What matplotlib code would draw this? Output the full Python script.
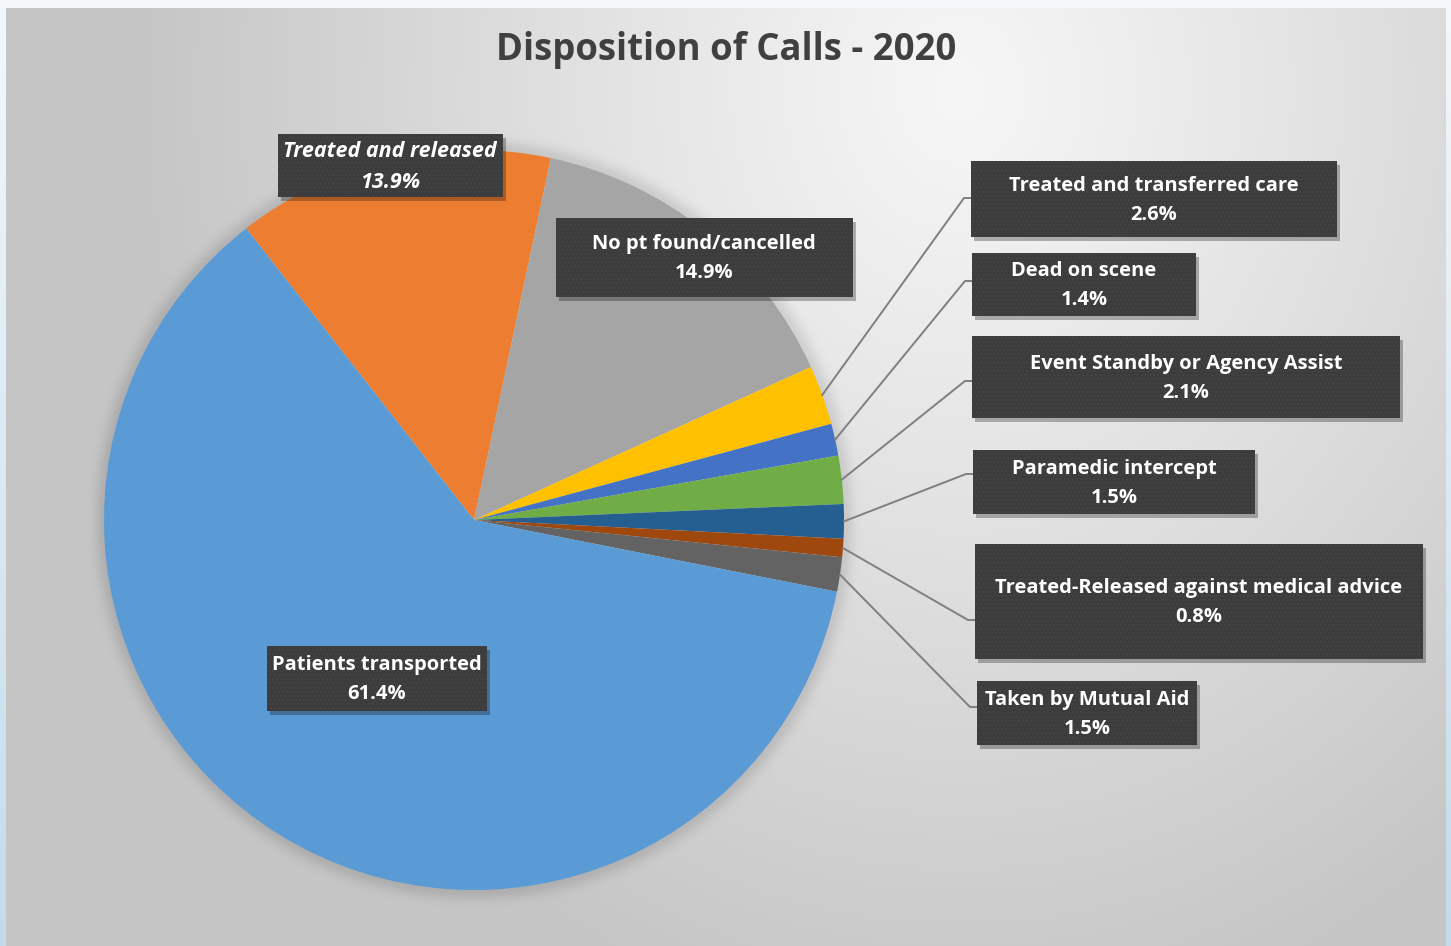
import numpy as np
import matplotlib.pyplot as plt
from matplotlib.patches import Rectangle
from matplotlib.colors import to_rgb

W, H = 1451, 946

categories = ["Treated and released", "No pt found/cancelled", "Treated and transferred care",
              "Dead on scene", "Event Standby or Agency Assist", "Paramedic intercept",
              "Treated-Released against medical advice", "Taken by Mutual Aid",
              "Patients transported"]
shares = [13.9, 14.9, 2.6, 1.4, 2.1, 1.5, 0.8, 1.5, 61.4]
colors = ["#ED7D31", "#A5A5A5", "#FFC000", "#4472C4", "#70AD47", "#255E91",
          "#9E480E", "#636363", "#5B9BD5"]

# label boxes: centre x, centre y, width, height (pixels, y from top)
boxes = [(390, 166, 225, 63), (704, 257, 297, 79), (1154, 199, 366, 76),
         (1084, 284, 224, 63), (1186, 377, 428, 82), (1114, 482, 282, 64),
         (1199, 601, 448, 115), (1087, 713, 220, 64), (377, 678, 220, 65)]
# y of the elbow where each leader line meets its box (None = no leader)
elbow_y = [None, None, 198, 281, 381, 474, 620, 707, None]

cx, cy, R = 474, 520, 370

plt.rcParams['font.family'] = ['Open Sans', 'DejaVu Sans']

fig = plt.figure(figsize=(W / 100, H / 100), dpi=100)
ax = fig.add_axes([0, 0, 1, 1])

# outer page background
yy = np.linspace(0, 1, 200)[:, None] * np.ones((1, 2))
top, bot = np.array(to_rgb("#f4f8fb")), np.array(to_rgb("#c4dbeb"))
page = top[None, None, :] * (1 - yy[..., None]) + bot[None, None, :] * yy[..., None]
ax.imshow(page, extent=(0, W, H, 0), aspect='auto', zorder=0)

# chart area: radial grey gradient with a soft shadow round the pie
x0, x1, y0, y1 = 6, 1446, 9, 946
gx, gy = np.meshgrid(np.arange(x0, x1), np.arange(y0, y1))
d = np.sqrt(((gx - 960) / 820.0) ** 2 + ((gy - 90) / 950.0) ** 2)
t = np.clip(d, 0, 1) ** 1.1
light, dark = 0.965, 0.775
val = light * (1 - t) + dark * t
pd_ = np.sqrt((gx - cx) ** 2 + (gy - cy) ** 2)
shade = np.where(pd_ > R - 3, 0.09 * np.exp(-((pd_ - R) / 10.0) ** 2), 0)
val = val - shade
bg = np.dstack([val, val, val])
ax.imshow(bg, extent=(x0, x1, y1, y0), aspect='auto', zorder=1)

wedges, _ = ax.pie(shares, colors=colors, startangle=-128, counterclock=True,
                   center=(cx, cy), radius=R, wedgeprops=dict(linewidth=0))
for w in wedges:
    w.set_zorder(2)

# leader lines from slice edge to label boxes
for w, (bx, by, bw, bh), ey in zip(wedges, boxes, elbow_y):
    if ey is None:
        continue
    mid = np.deg2rad((w.theta1 + w.theta2) / 2)
    sx, sy = cx + R * np.cos(mid), cy + R * np.sin(mid)
    left = bx - bw / 2
    ax.plot([sx, left - 7, left], [sy, ey, ey], color="#7f7f7f", lw=1.4,
            zorder=3, solid_joinstyle='miter')

# label boxes
for i, ((bx, by, bw, bh), name, v) in enumerate(zip(boxes, categories, shares)):
    ax.add_patch(Rectangle((bx - bw / 2 + 3, by - bh / 2 + 4), bw, bh,
                           facecolor="#000000", alpha=0.28, lw=0, zorder=4))
    ax.add_patch(Rectangle((bx - bw / 2, by - bh / 2), bw, bh, facecolor="#3c3c3c",
                           edgecolor="#444444", hatch="....", lw=0, zorder=5))
    style = 'italic' if i == 0 else 'normal'
    size = 15.5 if i == 0 else 14.5
    ax.text(bx, by + 1, f"{name}\n{v:.1f}%", ha='center', va='center', color='white',
            fontsize=size, fontweight='bold', fontstyle=style, linespacing=1.6,
            zorder=6)

ax.text(726, 50, "Disposition of Calls - 2020", ha='center', va='center',
        color="#404040", fontsize=26.3, fontweight='bold', zorder=6)

ax.set_xlim(0, W)
ax.set_ylim(H, 0)
ax.set_aspect('auto')
ax.axis('off')

fig.savefig("out.png", dpi=100)
